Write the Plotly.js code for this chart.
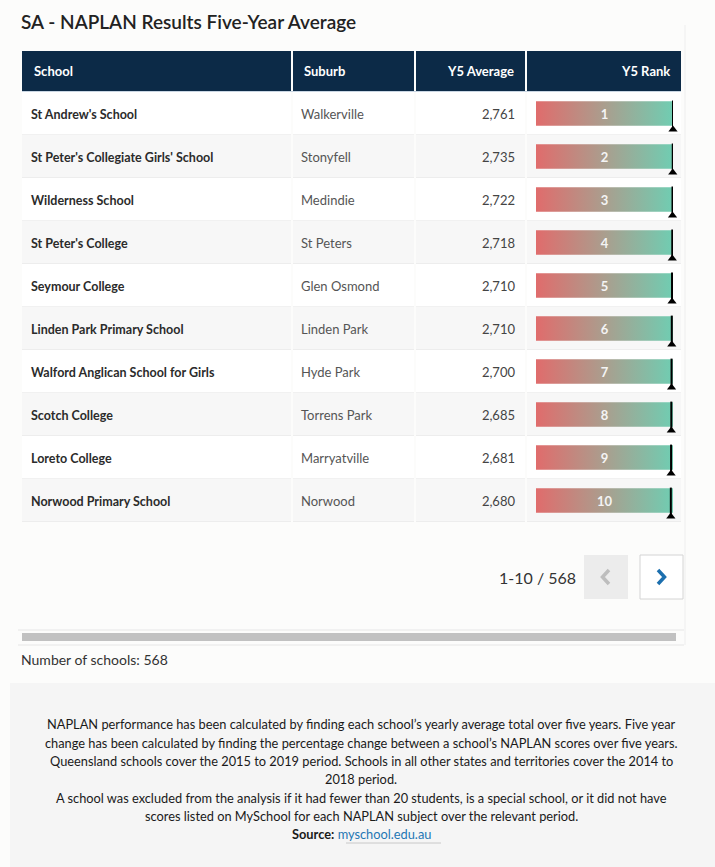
<!DOCTYPE html>
<html><head><meta charset="utf-8">
<script src="https://cdn.plot.ly/plotly-3.0.1.min.js"></script>
<style>html,body{margin:0;padding:0;background:#fcfcfb;}#chart{width:715px;height:867px;}</style>
</head><body><div id="chart"></div>
<script>
// ---------- data ----------
const chartTitle = 'SA - NAPLAN Results Five-Year Average';
const headers = ['School', 'Suburb', 'Y5 Average', 'Y5 Rank'];
const schools = [
  "St Andrew's School",
  "St Peter's Collegiate Girls' School",
  "Wilderness School",
  "St Peter's College",
  "Seymour College",
  "Linden Park Primary School",
  "Walford Anglican School for Girls",
  "Scotch College",
  "Loreto College",
  "Norwood Primary School"
];
const suburbs = ['Walkerville', 'Stonyfell', 'Medindie', 'St Peters', 'Glen Osmond',
  'Linden Park', 'Hyde Park', 'Torrens Park', 'Marryatville', 'Norwood'];
const y5Average = [2761, 2735, 2722, 2718, 2710, 2710, 2700, 2685, 2681, 2680];
const y5Rank = [1, 2, 3, 4, 5, 6, 7, 8, 9, 10];
const totalSchools = 568;
const pageLabel = '1-10 / 568';
const countLabel = 'Number of schools: 568';
const footerLines = [
  'NAPLAN performance has been calculated by finding each school\u2019s yearly average total over five years. Five year',
  'change has been calculated by finding the percentage change between a school\u2019s NAPLAN scores over five years.',
  'Queensland schools cover the 2015 to 2019 period. Schools in all other states and territories cover the 2014 to',
  '2018 period.',
  'A school was excluded from the analysis if it had fewer than 20 students, is a special school, or it did not have',
  'scores listed on MySchool for each NAPLAN subject over the relevant period.'
];
const sourceLabel = 'Source:';
const sourceLink = 'myschool.edu.au';

// ---------- layout helpers ----------
const W = 715, H = 867;
const FONT = 'Lato, "Open Sans", sans-serif';
const px = x => x / W;
const py = y => 1 - y / H;
const COLS = [[22, 291], [293, 414], [416, 525], [527, 681]];
const TABLE_TOP = 92, ROW_H = 43;
const nRows = schools.length;
const fmt = v => v.toLocaleString('en-US');
const TXT_DY = 0.05; // small downward nudge of row text

const shapes = [];
const annotations = [];
function rect(x0, y0, x1, y1, fill, line) {
  shapes.push({type: 'rect', xref: 'paper', yref: 'paper', layer: 'below',
    x0: px(x0), x1: px(x1), y0: py(y1), y1: py(y0), fillcolor: fill,
    line: line || {width: 0}});
}
function hline(x0, x1, y, color, w) {
  shapes.push({type: 'line', xref: 'paper', yref: 'paper', layer: 'below',
    x0: px(x0), x1: px(x1), y0: py(y), y1: py(y), line: {color: color, width: w || 1}});
}
function vline(x, y0, y1, color, w) {
  shapes.push({type: 'line', xref: 'paper', yref: 'paper', layer: 'below',
    x0: px(x), x1: px(x), y0: py(y0), y1: py(y1), line: {color: color, width: w || 1}});
}
function label(text, x, y, opts) {
  annotations.push(Object.assign({xref: 'paper', yref: 'paper', x: px(x), y: py(y),
    text: text, showarrow: false, xanchor: 'left', yanchor: 'middle',
    font: {family: FONT, size: 13, color: '#333'}}, opts || {}));
}

// panel edge
vline(685, 25, 645, '#eeeeee', 1);

// title
label(chartTitle, 19, 22, {font: {family: FONT, size: 19, color: '#222', weight: 600}});

// header
COLS.forEach(c => rect(c[0], 51, c[1], 91, '#0c2a47'));
hline(22, 681, 91.5, '#c9d6e3', 1);
const hdrFont = {family: FONT, size: 13, color: '#ffffff', weight: 700};
label(headers[0], 32, 71, {font: hdrFont});
label(headers[1], 302, 71, {font: hdrFont});
label(headers[2], 516, 71, {font: hdrFont, xanchor: 'right'});
label(headers[3], 672, 71, {font: hdrFont, xanchor: 'right'});

// row backgrounds & separators (per row index, on the row axis)
for (let i = 0; i < nRows; i++) {
  COLS.forEach(c => {
    shapes.push({type: 'rect', xref: 'paper', yref: 'y', layer: 'below',
      x0: px(c[0]), x1: px(c[1]), y0: i - 0.5, y1: i + 0.5,
      fillcolor: i % 2 ? '#f7f7f7' : '#ffffff', line: {width: 0}});
    shapes.push({type: 'line', xref: 'paper', yref: 'y', layer: 'below',
      x0: px(c[0]), x1: px(c[1]), y0: i + 0.5, y1: i + 0.5,
      line: {color: '#e3e3e3', width: 1}});
  });
}

// pagination
label(pageLabel, 578, 577, {xanchor: 'right', font: {family: FONT, size: 16, color: '#333'}});
rect(584, 555, 628, 599, '#ececec');
rect(640, 555, 683, 599, '#ffffff', {color: '#d4d4d4', width: 1});
shapes.push({type: 'path', xref: 'paper', yref: 'paper', layer: 'above',
  path: `M${px(609)},${py(570)} L${px(602.5)},${py(577)} L${px(609)},${py(584)}`,
  line: {color: '#bdbdbd', width: 3.5}});
shapes.push({type: 'path', xref: 'paper', yref: 'paper', layer: 'above',
  path: `M${px(658)},${py(570)} L${px(664.5)},${py(577)} L${px(658)},${py(584)}`,
  line: {color: '#1c6fae', width: 3.5}});

// scrollbar
hline(18, 684, 630, '#e6e6e6', 1);
hline(18, 684, 645, '#e6e6e6', 1);
rect(22, 633, 676, 641, '#c1c1c1');

// count
label(countLabel, 19, 659, {font: {family: FONT, size: 14, color: '#333'}});

// footer
rect(10, 683, 715, 867, '#f5f5f5');
const footY = [724, 743, 761, 779, 798, 816];
const footFont = {family: FONT, size: 12.8, color: '#1a1a1a'};
footerLines.forEach((t, k) => label(t, 361, footY[k], {xanchor: 'center', font: footFont}));
label(`<b>${sourceLabel}</b> <span style="color:#1f77b4">${sourceLink}</span>`, 361, 834,
  {xanchor: 'center', font: footFont});
hline(346, 441, 843, '#c8c8c8', 1);

// ---------- traces ----------
const rowIdx = schools.map((_, i) => i);
const traces = [];
const textTrace = (xs, txt, pos, font) => ({
  type: 'scatter', mode: 'text', xaxis: 'x', yaxis: 'y',
  x: xs, y: rowIdx.map(i => i + TXT_DY), text: txt, textposition: pos, textfont: font,
  hoverinfo: 'skip', showlegend: false, cliponaxis: false
});
traces.push(textTrace(rowIdx.map(() => 31), schools, 'middle right',
  {family: FONT, size: 12.5, color: '#2b2b2b', weight: 700}));
traces.push(textTrace(rowIdx.map(() => 301), suburbs, 'middle right',
  {family: FONT, size: 13, color: '#555555'}));
traces.push(textTrace(rowIdx.map(() => 515), y5Average.map(fmt), 'middle left',
  {family: FONT, size: 13, color: '#444444'}));

// gradient rank bars on rank axis (x2)
const BH = 0.285;
rowIdx.forEach(i => {
  traces.push({
    type: 'scatter', mode: 'lines', xaxis: 'x2', yaxis: 'y',
    x: [totalSchools, 1, 1, totalSchools, totalSchools],
    y: [i - BH, i - BH, i + BH, i + BH, i - BH],
    fill: 'toself', line: {width: 0},
    fillgradient: {type: 'horizontal', start: totalSchools, stop: 1,
      colorscale: [[0, '#e06c6c'], [0.5, '#aa9e8e'], [1, '#70cdb2']]},
    hoverinfo: 'skip', showlegend: false
  });
});
// rank labels
traces.push({
  type: 'scatter', mode: 'text', xaxis: 'x2', yaxis: 'y',
  x: rowIdx.map(() => (totalSchools + 1) / 2), y: rowIdx.map(i => i + TXT_DY),
  text: y5Rank.map(String), textposition: 'middle center',
  textfont: {family: FONT, size: 13, color: '#f4f4f4', weight: 700},
  hoverinfo: 'skip', showlegend: false
});
// rank marker lines
const mx = [], my = [];
y5Rank.forEach((r, i) => { mx.push(r, r, null); my.push(i - 0.30, i + 0.34, null); });
traces.push({type: 'scatter', mode: 'lines', xaxis: 'x2', yaxis: 'y', x: mx, y: my,
  line: {color: '#000000', width: 2}, hoverinfo: 'skip', showlegend: false, cliponaxis: false});
traces.push({type: 'scatter', mode: 'markers', xaxis: 'x2', yaxis: 'y',
  x: y5Rank, y: rowIdx.map(i => i + 0.37),
  marker: {symbol: 'triangle-up', size: 8, color: '#000000'},
  hoverinfo: 'skip', showlegend: false, cliponaxis: false});

const hiddenAxis = {visible: false, fixedrange: true, showgrid: false, zeroline: false};
const layout = {
  width: W, height: H,
  margin: {l: 0, r: 0, t: 0, b: 0, pad: 0},
  paper_bgcolor: '#fcfcfb', plot_bgcolor: 'rgba(0,0,0,0)',
  showlegend: false,
  xaxis: Object.assign({domain: [0, 1], range: [0, W]}, hiddenAxis),
  xaxis2: Object.assign({domain: [px(536), px(673)], range: [totalSchools, 1], anchor: 'y'}, hiddenAxis),
  yaxis: Object.assign({domain: [py(TABLE_TOP + ROW_H * nRows), py(TABLE_TOP)],
    range: [nRows - 0.5, -0.5]}, hiddenAxis),
  shapes: shapes,
  annotations: annotations,
  font: {family: FONT}
};
Plotly.newPlot('chart', traces, layout, {displayModeBar: false, staticPlot: true});
</script></body></html>
